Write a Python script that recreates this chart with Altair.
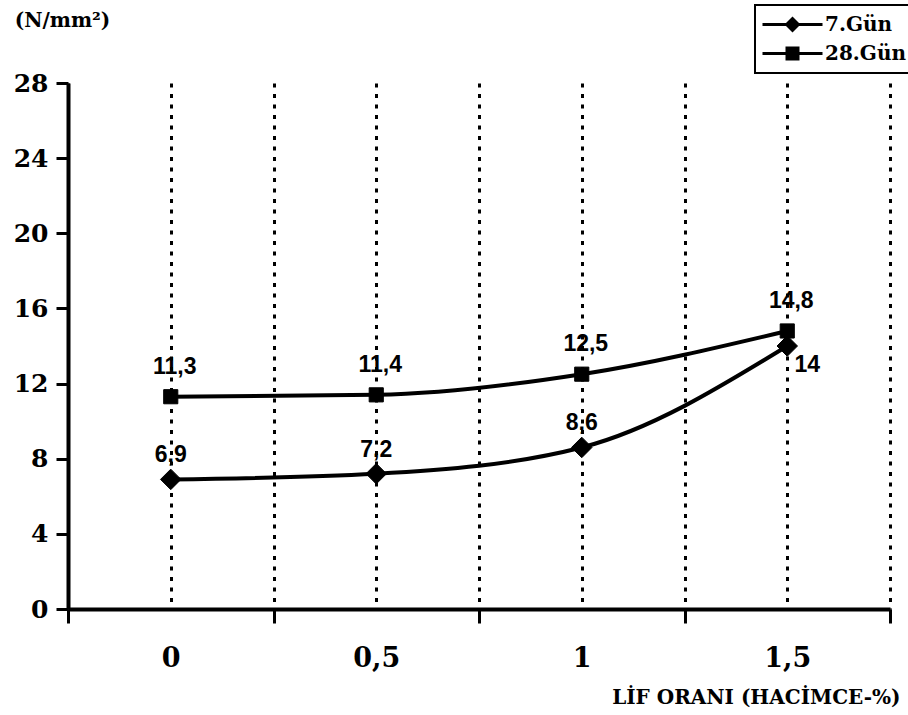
import altair as alt
import pandas as pd

# Fibre content (% by volume) and strength (N/mm²) at 7 and 28 days
fiber = [0, 0.5, 1, 1.5]
day7 = [6.9, 7.2, 8.6, 14]
day28 = [11.3, 11.4, 12.5, 14.8]
series = ["7.Gün", "28.Gün"]
y_ticks = [0, 4, 8, 12, 16, 20, 24, 28]
x_steps = [-0.25, 0, 0.25, 0.5, 0.75, 1, 1.25, 1.5, 1.75]


def fmt(v):
    return f"{v:g}".replace(".", ",")


df7 = pd.DataFrame({"fiber": fiber, "value": day7, "series": series[0],
                    "label": [fmt(v) for v in day7]})
df28 = pd.DataFrame({"fiber": fiber, "value": day28, "series": series[1],
                     "label": [fmt(v) for v in day28]})
long = pd.concat([df7, df28], ignore_index=True)

SERIF = "DejaVu Serif"
SANS = "Liberation Sans"

boundary = "abs((datum.value * 4) % 2) == 1"

x = alt.X(
    "fiber:Q",
    scale=alt.Scale(domain=[-0.25, 1.75], nice=False, zero=False),
    axis=alt.Axis(
        values=x_steps,
        title="LİF ORANI (HACİMCE-%)",
        titleFont=SERIF, titleFontWeight="bold", titleFontSize=20,
        titleColor="black", titleAlign="right", titleBaseline="middle",
        titleX=832, titleY=88, titleAngle=0,
        labelExpr="(datum.value * 4) % 2 == 0 ? replace(format(datum.value, '.2~f'), '.', ',') : ''",
        labelFont=SERIF, labelFontWeight="bold", labelFontSize=27,
        labelColor="black", labelPadding=22, labelOverlap=False,
        labelFlush=False, labelBound=False,
        domainColor="black", domainWidth=4,
        tickSize=14, tickWidth=3,
        tickColor={"condition": {"test": boundary, "value": "black"},
                   "value": "transparent"},
        grid=True, gridColor="black", gridWidth=3, gridDash=[4, 6.5],
    ),
)

y = alt.Y(
    "value:Q",
    scale=alt.Scale(domain=[0, 28], nice=False),
    axis=alt.Axis(
        values=y_ticks,
        title="(N/mm²)",
        titleFont=SERIF, titleFontWeight="bold", titleFontSize=20,
        titleColor="black", titleAngle=0, titleAlign="center",
        titleBaseline="middle", titleX=-6, titleY=-63,
        labelFont=SERIF, labelFontWeight="bold", labelFontSize=25,
        labelColor="black", labelPadding=8,
        domainColor="black", domainWidth=4,
        tickColor="black", tickSize=12, tickWidth=3,
        grid=False,
    ),
)

lines = alt.Chart(long).mark_line(
    interpolate="monotone", color="black", strokeWidth=4
).encode(x=x, y=y, detail="series:N")

pts7 = alt.Chart(df7).mark_point(
    shape="diamond", filled=True, size=420, color="black", opacity=1,
    stroke="black", strokeWidth=1,
).encode(x=x, y=y)

pts28 = alt.Chart(df28).mark_point(
    shape="square", filled=True, size=200, color="black", opacity=1,
    stroke="black", strokeWidth=1,
).encode(x=x, y=y)

text_style = dict(font=SANS, fontWeight="bold", fontSize=23, color="black",
                  baseline="middle", align="center")

text7 = alt.Chart(df7).transform_filter("datum.fiber < 1.5").mark_text(
    dy=-24, **text_style
).encode(x=x, y=y, text="label:N")

text7_last = alt.Chart(df7).transform_filter("datum.fiber == 1.5").mark_text(
    dx=20, dy=19, **text_style
).encode(x=x, y=y, text="label:N")

text28 = alt.Chart(df28).mark_text(dx=4, dy=-30, **text_style).encode(
    x=x, y=y, text="label:N"
)

# Legend symbols: a line segment with the series marker on it
sym7 = "M-3,-0.15L3,-0.15L3,0.15L-3,0.15Z M0,-0.8L0.8,0L0,0.8L-0.8,0Z"
sym28 = "M-3,-0.15L3,-0.15L3,0.15L-3,0.15Z M-0.7,-0.7L0.7,-0.7L0.7,0.7L-0.7,0.7Z"

legend_layer = alt.Chart(long).mark_point(
    filled=True, opacity=0, color="black"
).encode(
    x=x, y=y,
    shape=alt.Shape(
        "series:N",
        scale=alt.Scale(domain=series, range=[sym7, sym28]),
        legend=alt.Legend(
            title=None, orient="none", legendX=687, legendY=-78,
            labelFont=SERIF, labelFontWeight="bold", labelFontSize=20,
            labelColor="black", strokeColor="black", fillColor="white",
            padding=9, rowPadding=8, symbolSize=400, symbolOffset=18,
            labelOffset=22, symbolFillColor="black",
            symbolStrokeColor="black", symbolStrokeWidth=0.5,
            symbolOpacity=1,
        ),
    ),
)

chart = alt.layer(
    lines, pts7, pts28, text7, text7_last, text28, legend_layer
).properties(
    width=822, height=526,
    autosize=alt.AutoSizeParams(type="none"),
    padding={"left": 68, "top": 83, "right": 18, "bottom": 106},
    background="white",
).configure_view(stroke=None).configure_legend(strokeWidth=2)

chart.save("out.html", embed_options={"renderer": "svg", "actions": False})
